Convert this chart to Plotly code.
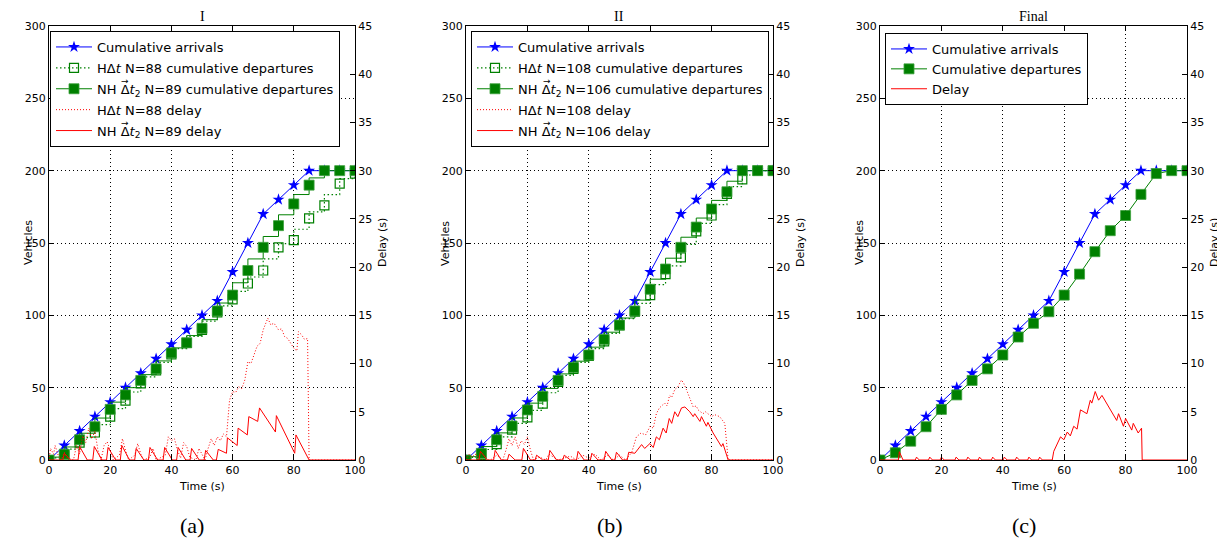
import plotly.graph_objects as go

# ---------------- data ----------------
t5 = [0, 5, 10, 15, 20, 25, 30, 35, 40, 45, 50, 55, 60, 65, 70, 75, 80, 85, 90, 95, 100]
arrivals = [0, 10, 20, 30, 40, 50, 60, 70, 80, 90, 100, 110, 130, 150, 170, 180, 190, 200, 200, 200, 200]

dep_a_h = [0, 3, 12, 19, 30, 41, 53, 62, 73, 81, 90, 102, 111, 122, 131, 147, 152, 167, 176, 191, 198]
dep_a_nh = [0, 4, 14, 23, 35, 45, 55, 63, 74, 81, 91, 103, 114, 131, 147, 162, 177, 190, 200, 200, 200]
dep_b_h = [0, 3.5, 11, 21, 29.5, 39, 54, 63, 72, 82, 93, 102.5, 114, 128.5, 140, 158, 169, 184, 194, 200, 200]
dep_b_nh = [0, 4.6, 14, 23.5, 34.6, 44, 55, 64, 72.6, 83.4, 93.3, 103, 118, 132, 147, 161, 173.5, 185.4, 200, 200, 200]
dep_c = [0, 5, 13, 23, 35, 45, 55, 63, 72.6, 85, 94.5, 102.5, 114, 128.5, 144, 158.5, 169, 183.6, 198, 200, 200]

# delay (s) vertices
da_nh_t = [0, 4.5, 5, 7, 9.5, 10, 12.5, 14.3, 14.8, 17.3, 18.8, 19.3, 21.8, 23.3, 23.8, 26.3, 28, 28.5, 31,
           32.5, 33, 35.5, 37.3, 37.8, 40.3, 41.7, 42.2, 44.7, 46.1, 46.6, 49.1, 50.7, 51.2, 53.7, 54.7, 55.3,
           58, 58.3, 61.5, 61.8, 64.8, 65.3, 68.2, 68.8, 74, 74.3, 80.3, 80.7, 85, 100]
da_nh_d = [0, 0, 0.7, 0, 0, 1.4, 0, 0, 1.4, 0, 0, 1.3, 0, 0, 1.5, 0, 0, 1.2, 0, 0, 1.3, 0, 0, 1.3, 0, 0, 1.3,
           0, 0, 1.2, 0, 0, 1.0, 0, 0, 1.1, 0.7, 2.3, 1.5, 3.3, 2.6, 4.5, 4.0, 5.4, 2.9, 4.6, 0.7, 2.6, 0, 0]

da_h_t = [0, 0.5, 1.5, 2, 3, 4, 5, 6, 8, 9, 10, 11, 12, 13, 14, 15, 16, 17, 18, 19, 20, 21, 23, 24, 25, 26, 28,
          29, 30, 31, 33, 34, 35, 38, 39, 40, 41, 42, 43, 44, 45, 46, 48, 49, 50, 51, 52, 53, 54, 55, 56, 57,
          58, 59, 60, 61, 62, 63, 64, 65, 66, 67, 68, 69, 70, 71.5, 72.5, 73.5, 75, 76, 77, 78, 79, 80, 81,
          81.5, 82.5, 83.5, 84.5, 85, 100]
da_h_d = [0, 1.2, 0.6, 1.5, 0.5, 0, 0.8, 0.2, 0, 1.5, 0.6, 2.5, 1.8, 3.3, 2.2, 3.0, 1.0, 0, 1.5, 1.9, 1.0, 0,
          0.5, 2.2, 1.0, 0, 0.5, 1.7, 0.6, 0, 0.3, 1.2, 0, 0.5, 2.4, 2.0, 2.2, 1.0, 0.2, 1.8, 1.4, 0.3, 0, 1.2,
          0.6, 0, 1.2, 2.2, 1.5, 2.4, 2.0, 2.7, 2.4, 6.2, 7.1, 7.0, 7.6, 7.4, 8.3, 10.2, 10.0, 10.9, 11.8, 12.1,
          13.5, 14.7, 14.0, 14.2, 13.5, 13.6, 12.8, 12.6, 12.1, 11.6, 11.3, 13.3, 13.0, 12.5, 12.6, 0, 0]

db_nh_t = [0, 4.2, 4.7, 7, 9, 9.5, 11.5, 13.5, 14, 16, 18.2, 18.7, 21, 22.5, 23, 25, 26.8, 27.3, 29.5, 31.5, 32,
           34, 36, 36.5, 38.5, 40.5, 41, 43, 45, 45.5, 47.5, 48.5, 49, 51, 52.5, 53, 55, 57.2, 58.2, 59.9, 61,
           62, 63, 64.2, 65.2, 66.2, 67, 68, 69, 70.2, 71.3, 72.9, 74, 74.5, 76.2, 76.7, 78.3, 78.8, 80.5, 83.2,
           83.7, 85.4, 100]
db_nh_d = [0, 0, 0.9, 0, 0, 1.0, 0, 0, 0.6, 0, 0, 1.2, 0, 0, 0.5, 0, 0, 1.0, 0, 0, 0.5, 0, 0, 0.9, 0, 0, 0.7,
           0, 0, 0.9, 0, 0, 0.8, 0, 0, 0.8, 0.7, 1.6, 1.2, 1.7, 1.3, 2.4, 2.1, 3.3, 2.8, 4.3, 3.8, 5.0, 4.5,
           5.4, 5.5, 5.0, 4.5, 4.8, 4.0, 4.5, 3.5, 3.9, 2.8, 1.4, 1.7, 0, 0]

db_h_t = [0, 1, 2, 3, 5, 8, 10, 12, 13, 14, 15, 16, 17, 18, 19, 20, 21, 22, 24, 26, 27, 30, 34, 36, 38, 40, 42,
          44, 46, 48, 50, 52, 54, 55.5, 57, 58.5, 60, 61, 62, 63, 64.7, 65.5, 66.3, 67, 68, 69, 70.2, 71, 71.8,
          73, 74, 75, 75.6, 77.2, 78, 78.8, 80, 81, 82.6, 84.3, 85.4, 100]
db_h_d = [0, 0.6, 0.3, 0.6, 0, 0, 0.5, 0, 1.0, 2.2, 1.5, 2.4, 1.2, 2.0, 1.6, 2.4, 1.0, 0, 0.3, 0, 0.6, 0, 0.4,
          0, 0.5, 0.2, 0.6, 0, 0.5, 0, 0.5, 0, 0.8, 2.4, 2.8, 2.6, 3.5, 3.3, 4.8, 5.4, 5.9, 5.6, 6.7, 6.5, 7.3,
          7.6, 8.3, 7.9, 7.3, 6.2, 5.5, 5.6, 5.2, 4.8, 5.0, 4.8, 4.5, 4.7, 4.5, 3.8, 0, 0]

dc_t = [0, 6, 6.3, 7.5, 11.5, 11.9, 12.8, 15.8, 16.2, 17.1, 19.6, 20, 20.9, 24.4, 24.8, 25.7, 28.2, 28.6, 29.5,
        32, 32.4, 33.3, 36.3, 36.7, 37.6, 40.1, 40.5, 41.4, 44.1, 44.5, 45.4, 48.1, 48.5, 49.4, 51.6, 52, 52.9,
        56.1, 56.6, 58.8, 59.9, 61, 62, 63.1, 64.2, 65.3, 67.4, 68.5, 69, 70.1, 71.2, 72.3, 77.1, 77.7, 79.3,
        80, 82, 82.5, 84.1, 85.2, 85.4, 100]
dc_d = [0, 0, 0.86, 0, 0, 0.3, 0, 0, 0.3, 0, 0, 0.3, 0, 0, 0.3, 0, 0, 0.3, 0, 0, 0.3, 0, 0, 0.3, 0, 0, 0.3, 0,
        0, 0.3, 0, 0, 0.3, 0, 0, 0.3, 0, 0, 0.9, 2.4, 2.1, 2.9, 2.5, 3.5, 3.2, 5.2, 4.8, 6.2, 5.9, 7.1, 6.2,
        6.7, 4.1, 4.8, 3.5, 4.3, 3.1, 3.8, 2.8, 3.3, 0, 0]

titles = ["I", "II", "Final"]
captions = ["(a)", "(b)", "(c)"]

# ---------------- layout constants ----------------
# the page body has an 8px margin, so the figure starts at (8, 8) on screen
OFF = 8
W, H = 1225 - OFF, 544 - OFF
x_dom = [(49, 355), (466, 773), (880, 1187)]   # screen pixels
y_top, y_bot = 26, 460
FONT = "DejaVu Sans"
SERIF = "Liberation Serif"
BLUE, GREEN, RED = "#0000ff", "#008000", "#ff0000"
DT = "\u0394<i>t</i>"
DT2 = "\u0394<i>t</i><sub>2</sub>"

def px(xs):
    return (xs - OFF) / W

def py(ys):
    return 1 - (ys - OFF) / H

fig = go.Figure()

def arr_trace(xa, ya, lg):
    return go.Scatter(x=t5, y=arrivals, xaxis=xa, yaxis=ya, legend=lg, legendgroup=lg + "1",
                      name="Cumulative arrivals", mode="lines+markers",
                      line=dict(color=BLUE, width=1),
                      marker=dict(symbol="star", size=9, color=BLUE, line=dict(width=0)))

def dep_h(vals, n, xa, ya, lg):
    return go.Scatter(x=t5, y=vals, xaxis=xa, yaxis=ya, legend=lg, legendgroup=lg + "2",
                      name=f"H{DT} N={n} cumulative departures", mode="lines+markers",
                      line=dict(color=GREEN, width=1.2, dash="1.5px,2.5px", shape="vhv"),
                      marker=dict(symbol="square-open", size=9, color=GREEN, line=dict(width=1.2)))

def dep_nh(vals, name, xa, ya, lg, shape):
    return go.Scatter(x=t5, y=vals, xaxis=xa, yaxis=ya, legend=lg, legendgroup=lg + "3",
                      name=name, mode="lines+markers",
                      line=dict(color=GREEN, width=1, shape=shape),
                      marker=dict(symbol="square", size=10, color=GREEN,
                                  line=dict(width=1, color="rgba(60,160,60,0.8)")))

def delay(tt, dd, name, xa, ya, lg, grp, dotted):
    return go.Scatter(x=tt, y=dd, xaxis=xa, yaxis=ya, legend=lg, legendgroup=lg + grp,
                      name=name, mode="lines",
                      line=dict(color=RED, width=1, dash="1px,2px" if dotted else "solid"))

# panel (a)
fig.add_trace(arr_trace("x", "y", "legend"))
fig.add_trace(dep_h(dep_a_h, 88, "x", "y", "legend"))
fig.add_trace(dep_nh(dep_a_nh, f"NH {DT2} N=89 cumulative departures", "x", "y", "legend", "vhv"))
fig.add_trace(delay(da_h_t, da_h_d, f"H{DT} N=88 delay", "x", "y2", "legend", "4", True))
fig.add_trace(delay(da_nh_t, da_nh_d, f"NH {DT2} N=89 delay", "x", "y2", "legend", "5", False))
# panel (b)
fig.add_trace(arr_trace("x2", "y3", "legend2"))
fig.add_trace(dep_h(dep_b_h, 108, "x2", "y3", "legend2"))
fig.add_trace(dep_nh(dep_b_nh, f"NH {DT2} N=106 cumulative departures", "x2", "y3", "legend2", "vhv"))
fig.add_trace(delay(db_h_t, db_h_d, f"H{DT} N=108 delay", "x2", "y4", "legend2", "4", True))
fig.add_trace(delay(db_nh_t, db_nh_d, f"NH {DT2} N=106 delay", "x2", "y4", "legend2", "5", False))
# panel (c)
fig.add_trace(arr_trace("x3", "y5", "legend3"))
fig.add_trace(dep_nh(dep_c, "Cumulative departures", "x3", "y5", "legend3", "linear"))
fig.add_trace(delay(dc_t, dc_d, "Delay", "x3", "y6", "legend3", "4", False))

tickfont = dict(family=FONT, size=11, color="black")
ydom = [py(y_bot), py(y_top)]

layout = dict(
    width=W, height=H, margin=dict(l=0, r=0, t=0, b=0),
    paper_bgcolor="white", plot_bgcolor="white",
    font=dict(family=FONT, size=11, color="black"),
    showlegend=True,
)

annotations = []
for i, (x0, x1) in enumerate(x_dom):
    xk = "xaxis" if i == 0 else f"xaxis{i + 1}"
    xref = "x" if i == 0 else f"x{i + 1}"
    yl = "yaxis" if i == 0 else f"yaxis{2 * i + 1}"
    ylref = "y" if i == 0 else f"y{2 * i + 1}"
    yr = f"yaxis{2 * i + 2}"
    layout[xk] = dict(domain=[px(x0), px(x1)], anchor=ylref, range=[0, 100], dtick=20, tick0=0,
                      showline=True, linecolor="black", linewidth=1, mirror="ticks",
                      ticks="inside", ticklen=5, tickcolor="black", tickfont=tickfont,
                      showgrid=True, gridcolor="black", gridwidth=1, griddash="1px,3px",
                      zeroline=False, automargin=False)
    layout[yl] = dict(domain=ydom, anchor=xref, range=[0, 300], dtick=50, tick0=0,
                      showline=True, linecolor="black", linewidth=1, mirror=True,
                      ticks="inside", ticklen=5, tickcolor="black", tickfont=tickfont,
                      showgrid=True, gridcolor="black", gridwidth=1, griddash="1px,3px",
                      zeroline=False, automargin=False)
    layout[yr] = dict(overlaying=ylref, anchor=xref, side="right", range=[0, 45], dtick=5, tick0=0,
                      showline=True, linecolor="black", linewidth=1,
                      ticks="inside", ticklen=5, tickcolor="black", tickfont=tickfont,
                      showgrid=False, zeroline=False, automargin=False)
    xc = (x0 + x1) / 2
    ymid = (y_top + y_bot) / 2
    axis_title_font = dict(family=FONT, size=11, color="black")
    annotations.append(dict(text="Time (s)", x=px(xc), y=py(486), xref="paper", yref="paper",
                            showarrow=False, font=axis_title_font, xanchor="center", yanchor="middle"))
    annotations.append(dict(text="Vehicles", x=px(x0 - 21), y=py(ymid), xref="paper", yref="paper",
                            showarrow=False, font=axis_title_font, textangle=-90,
                            xanchor="center", yanchor="middle"))
    annotations.append(dict(text="Delay (s)", x=px(x1 + 27), y=py(ymid), xref="paper", yref="paper",
                            showarrow=False, font=axis_title_font, textangle=-90,
                            xanchor="center", yanchor="middle"))
    annotations.append(dict(text=titles[i], x=px(xc), y=py(16), xref="paper", yref="paper",
                            showarrow=False, font=dict(family=SERIF, size=14, color="black"),
                            xanchor="center", yanchor="middle"))
    annotations.append(dict(text=captions[i], x=px(xc - 10), y=py(525), xref="paper", yref="paper",
                            showarrow=False, font=dict(family=SERIF, size=22, color="black"),
                            xanchor="center", yanchor="middle"))

# vector arrows over the Delta in the NH legend labels
leg_x = [50, 471]
for lx in leg_x:
    for ry in (81, 123):
        annotations.append(dict(text="\u2192", x=px(lx + 75.5), y=py(ry), xref="paper", yref="paper",
                                showarrow=False, font=dict(family=FONT, size=9, color="black"),
                                xanchor="center", yanchor="middle"))

leg_common = dict(bgcolor="white", bordercolor="black", borderwidth=1, xanchor="left", yanchor="top",
                  font=dict(family=FONT, size=13, color="black"), traceorder="grouped",
                  itemwidth=36, itemclick=False)
layout["legend"] = dict(x=px(50), y=py(31), tracegroupgap=1, **leg_common)
layout["legend2"] = dict(x=px(471), y=py(31), tracegroupgap=1, **leg_common)
layout["legend3"] = dict(x=px(885), y=py(33), tracegroupgap=0, **leg_common)
layout["annotations"] = annotations

fig.update_layout(**layout)
fig.write_html("out.html")
